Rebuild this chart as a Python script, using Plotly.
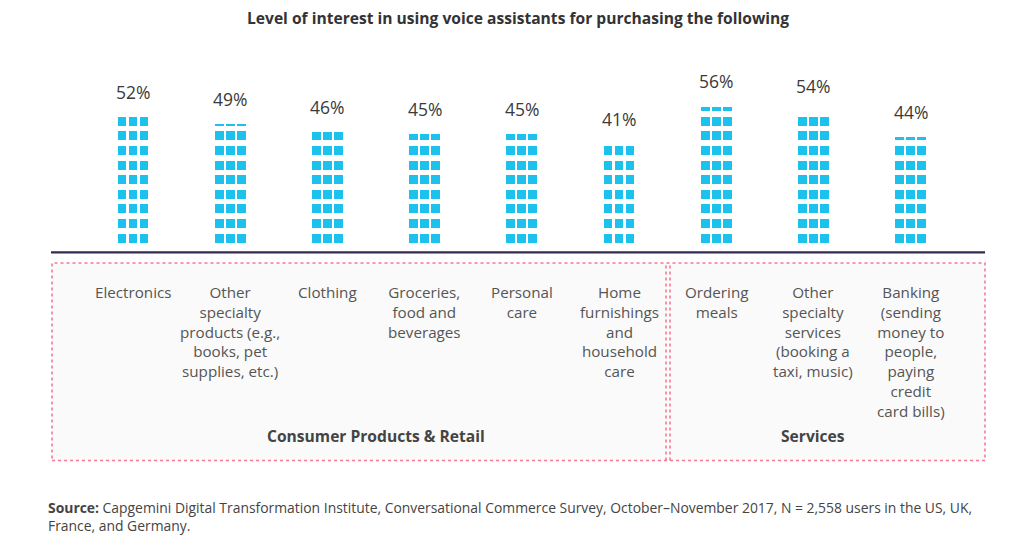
import plotly.graph_objects as go

# ---------------- data ----------------
categories = [
    "Electronics",
    "Other<br>specialty<br>products (e.g.,<br>books, pet<br>supplies, etc.)",
    "Clothing",
    "Groceries,<br>food and<br>beverages",
    "Personal<br>care",
    "Home<br>furnishings<br>and<br>household<br>care",
    "Ordering<br>meals",
    "Other<br>specialty<br>services<br>(booking a<br>taxi, music)",
    "Banking<br>(sending<br>money to<br>people,<br>paying<br>credit<br>card bills)",
]
values = [52, 49, 46, 45, 45, 41, 56, 54, 44]
groups = ["Consumer Products & Retail", "Services"]
group_sizes = [6, 3]
title_text = "Level of interest in using voice assistants for purchasing the following"
source_text = ("<b>Source:</b> Capgemini Digital Transformation Institute, Conversational Commerce Survey, "
               "October\u2013November 2017, N = 2,558 users in the US, UK,<br>France, and Germany.")

# ---------------- pictogram geometry ----------------
STEP = 52 / 9          # value represented by one row of squares
SQ = STEP * 0.62       # square portion of each row
GAP = STEP - SQ
COL_OFFSETS = [-0.113, 0.0, 0.113]
COL_W = 0.09

xs, bases, heights = [], [], []
for i, v in enumerate(values):
    k = 0
    while True:
        b = k * STEP + GAP
        if b >= v:
            break
        h = min(SQ, v - b)
        for off in COL_OFFSETS:
            xs.append(i + off)
            bases.append(b)
            heights.append(h)
        k += 1

# ---------------- page mapping ----------------
OFF = 8
W, H = 1024 - OFF, 549 - OFF
X0_PX, X_PITCH = 133.0, 97.2
Y0_PX, Y_PX_PER = 248.2, 2.527

def px(X):
    return (X - OFF) / W

def py(Y):
    return 1 - (Y - OFF) / H

x_range = [(OFF - X0_PX) / X_PITCH, (OFF + W - X0_PX) / X_PITCH]
y_range = [-(OFF + H - Y0_PX) / Y_PX_PER, (Y0_PX - OFF) / Y_PX_PER]

FONT = "Open Sans"
fig = go.Figure()
fig.add_trace(go.Bar(
    x=xs, y=heights, base=bases, width=COL_W,
    marker=dict(color="#1cc1ec", line=dict(width=0)),
    hoverinfo="skip", showlegend=False,
))

shapes = []
shapes.append(dict(type="rect", xref="paper", yref="paper",
                   x0=px(52), x1=px(985), y0=py(460.5), y1=py(263),
                   fillcolor="#fafafa", line=dict(color="#f47a95", width=1.6, dash="dot"),
                   layer="below"))
for xv in (666, 670):
    shapes.append(dict(type="line", xref="paper", yref="paper",
                       x0=px(xv), x1=px(xv), y0=py(460.5), y1=py(263),
                       line=dict(color="#f47a95", width=1.6, dash="dot")))
shapes.append(dict(type="line", xref="paper", yref="paper",
                   x0=px(51), x1=px(985), y0=py(252.3), y1=py(252.3),
                   line=dict(color="#352a55", width=2.2)))

ann = []
ann.append(dict(text=f"<b>{title_text}</b>", x=px(518), y=py(18), xref="paper", yref="paper",
                showarrow=False, xanchor="center", yanchor="middle",
                font=dict(family=FONT, size=15.6, color="#333333")))
LABEL_OFF = 10
for i, (c, v) in enumerate(zip(categories, values)):
    ann.append(dict(text=f"{v}%", x=i, y=v + LABEL_OFF, xref="x", yref="y",
                    showarrow=False, xanchor="center", yanchor="middle",
                    font=dict(family=FONT, size=17.5, color="#3a3a3a")))
    ann.append(dict(text=c, x=i, y=py(280), xref="x", yref="paper",
                    showarrow=False, xanchor="center", yanchor="top", align="center",
                    font=dict(family=FONT, size=15.2, color="#555555")))
start = 0
for g, n in zip(groups, group_sizes):
    ann.append(dict(text=f"<b>{g}</b>", x=start + (n - 1) / 2, y=py(436), xref="x", yref="paper",
                    showarrow=False, xanchor="center", yanchor="middle",
                    font=dict(family=FONT, size=15.6, color="#444444")))
    start += n
ann.append(dict(text=source_text, x=px(46), y=py(496), xref="paper", yref="paper",
                showarrow=False, xanchor="left", yanchor="top", align="left",
                font=dict(family=FONT, size=13.9, color="#444444")))

fig.update_layout(
    width=W, height=H, margin=dict(l=0, r=0, t=0, b=0),
    paper_bgcolor="white", plot_bgcolor="rgba(0,0,0,0)",
    barmode="overlay", bargap=0,
    xaxis=dict(range=x_range, visible=False, fixedrange=True),
    yaxis=dict(range=y_range, visible=False, fixedrange=True),
    shapes=shapes, annotations=ann, showlegend=False,
)
fig.write_html("out.html")
